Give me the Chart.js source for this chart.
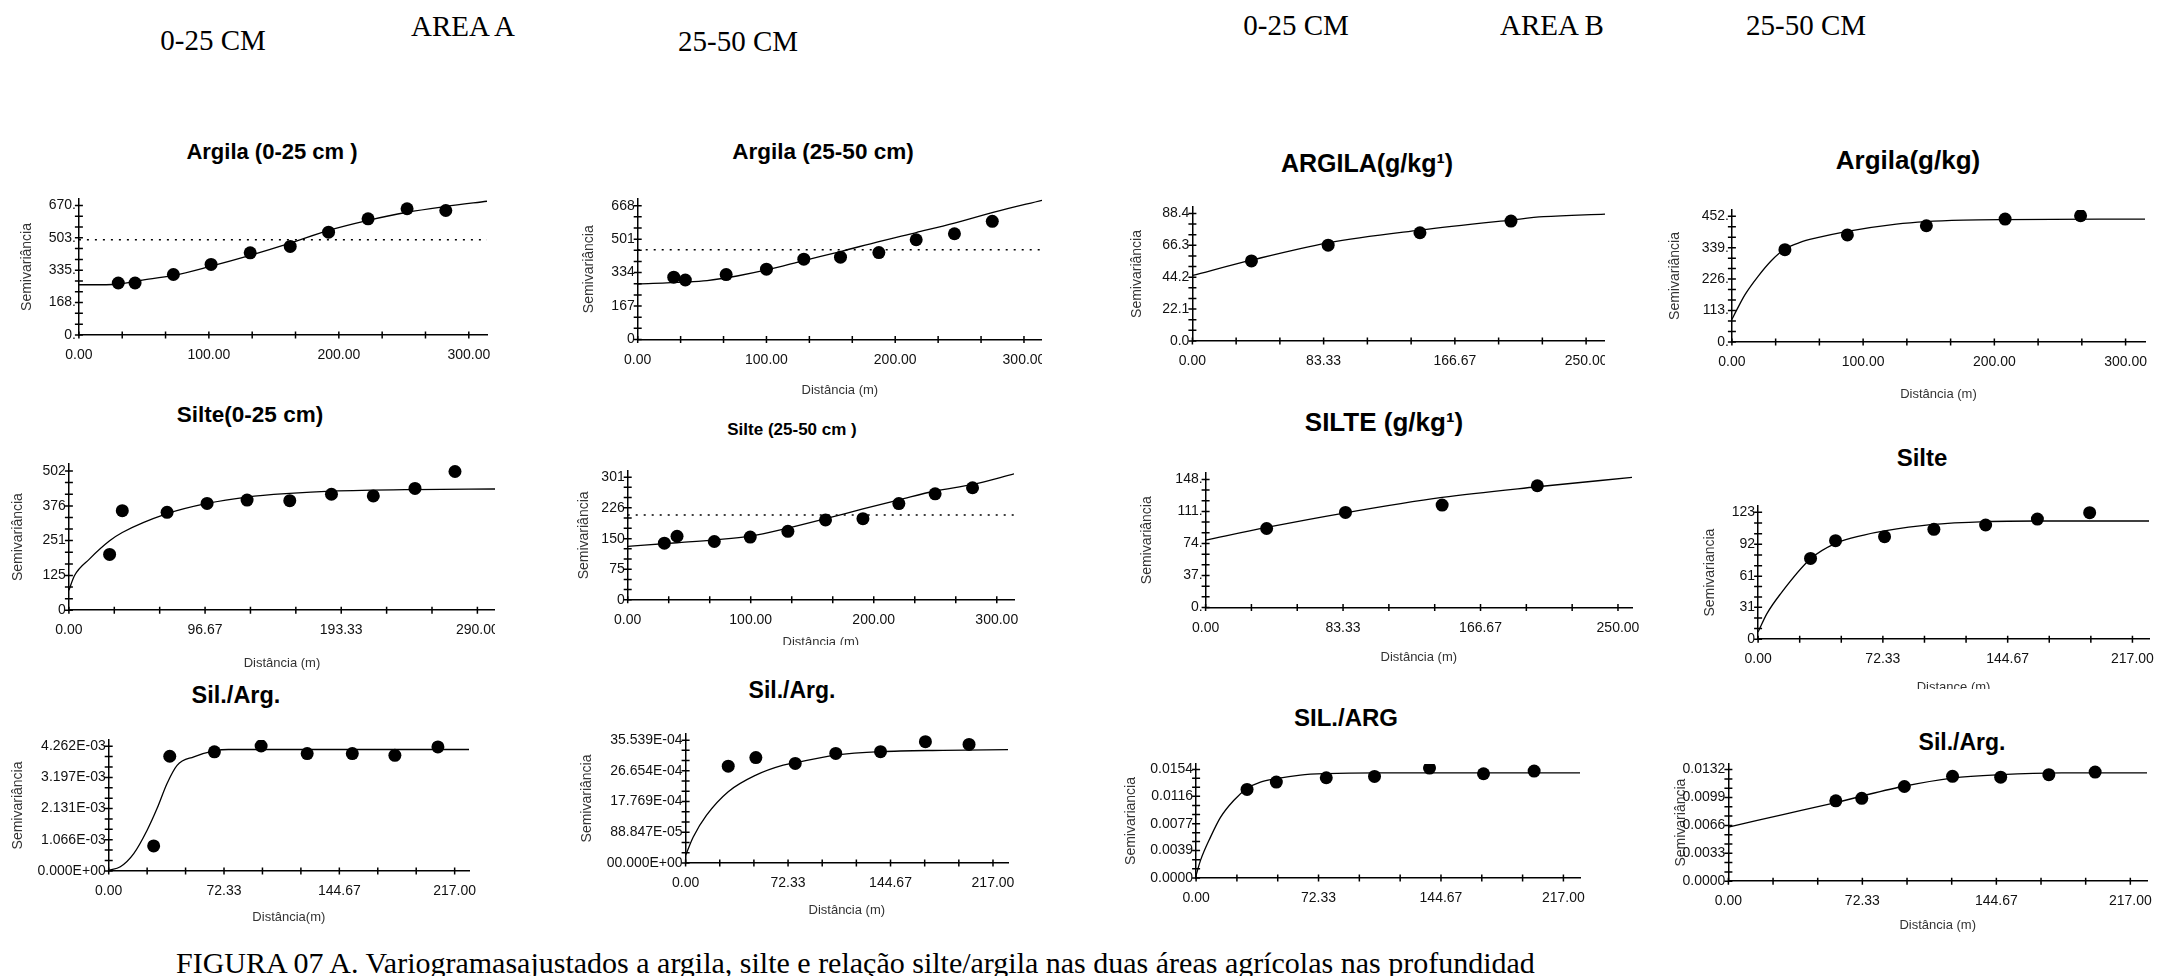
<!DOCTYPE html>
<html>
<head>
<meta charset="utf-8">
<script src="https://cdn.jsdelivr.net/npm/chart.js@4.4.0/dist/chart.umd.min.js"></script>
<style>
body { margin:0; background:#fff; }
#page { position:relative; width:2159px; height:976px; overflow:hidden; background:#fff; font-family:"Liberation Sans", Arial, sans-serif; }
.lbl { position:absolute; transform:translate(-50%,-50%); white-space:nowrap; }
.head { font-family:"Liberation Serif","Times New Roman",serif; font-size:29px; color:#000; }
.ttl { font-weight:bold; color:#000; }
.box { position:absolute; overflow:hidden; }
.box canvas { position:absolute; left:0; top:0; }
#caption { position:absolute; left:176px; top:946px; font-family:"Liberation Serif","Times New Roman",serif; font-size:30px; white-space:nowrap; }
</style>
</head>
<body>
<div id="page">
     <div class="lbl head" style="left:213px;top:40px">0-25 CM</div>
     <div class="lbl head" style="left:463px;top:26px">AREA A</div>
     <div class="lbl head" style="left:738px;top:41px">25-50 CM</div>
     <div class="lbl head" style="left:1296px;top:25px">0-25 CM</div>
     <div class="lbl head" style="left:1552px;top:25px">AREA B</div>
     <div class="lbl head" style="left:1806px;top:25px">25-50 CM</div>
     <div id="caption">FIGURA 07 A. Variogramasajustados a argila, silte e relação silte/argila nas duas áreas agrícolas nas profundidad</div>
</div>
<script>
// ---- data (lag in m, semivariance) ----

// Area A, argila 0-25
var argA1Lag = [30.3, 43.2, 72.7, 101.7, 131.8, 162.6, 192.1, 222.5, 252.5, 282.3];
var argA1Semi = [269, 269, 313, 365, 425, 458, 532, 601, 653, 644];
var argA1FitLag = [0, 21, 31.6, 47, 72.7, 101, 131.8, 162.6, 192, 221.7, 252.5, 282.3, 314];
var argA1FitSemi = [260, 260, 265, 282, 308, 355, 412, 475, 541, 592, 635, 665, 692];
var argA1Sill = 493;
var argA1YLabels = ['0.', '168.', '335.', '503.', '670.'];
var argA1XLabels = ['0.00', '100.00', '200.00', '300.00'];

// Area A, argila 25-50
var argA2Lag = [28, 37, 68.7, 100, 129, 157.5, 187.3, 216.3, 246, 275.4];
var argA2Semi = [311, 297, 324, 351, 401, 411, 434, 498, 528, 590];
var argA2FitLag = [0, 35.8, 53.9, 77.2, 100, 129, 157.5, 187.3, 216.3, 246, 276.7, 314];
var argA2FitSemi = [277, 286, 294, 317, 347, 394, 439, 489, 534, 581, 636, 695];
var argA2Sill = 448;
var argA2YLabels = ['0', '167', '334', '501', '668'];
var argA2XLabels = ['0.00', '100.00', '200.00', '300.00'];

// Area B, argila 0-25
var argB1Lag = [37.5, 86.2, 144.5, 202.3];
var argB1Semi = [55.5, 66.4, 75.0, 83.1];
var argB1FitLag = [0, 37.5, 86.2, 144.5, 202.3, 223, 262];
var argB1FitSemi = [45.4, 56, 68, 76.8, 83.8, 86.1, 87.9];
var argB1YLabels = ['0.0', '22.1', '44.2', '66.3', '88.4'];
var argB1XLabels = ['0.00', '83.33', '166.67', '250.00'];

// Area B, argila 25-50
var argB2Lag = [40.4, 88, 148.2, 208.2, 265.7];
var argB2Semi = [332, 385, 418, 442, 454];
var argB2FitLag = [0, 4, 10, 19.8, 30, 40.4, 52, 64.3, 88, 125.3, 148.2, 176.2, 208.2, 314.8];
var argB2FitSemi = [81, 118, 170, 235, 292, 334, 358, 374, 398, 424, 433, 438, 440, 442];
var argB2YLabels = ['0.', '113.', '226.', '339.', '452.'];
var argB2XLabels = ['0.00', '100.00', '200.00', '300.00'];

// Area A, silte 0-25
var silA1Lag = [28.9, 37.9, 69.7, 98.1, 126.5, 156.8, 186.4, 216.1, 245.7, 274.1];
var silA1Semi = [201, 359, 353, 385, 397, 395, 418, 412, 439, 500];
var silA1FitLag = [0, 4, 14.7, 28.9, 37.9, 69.7, 98.1, 126.5, 156.8, 186.4, 245.7, 302.5];
var silA1FitSemi = [72, 125, 185, 250, 280, 348, 385, 408, 421, 429, 435, 437];
var silA1YLabels = ['0', '125', '251', '376', '502'];
var silA1XLabels = ['0.00', '96.67', '193.33', '290.00'];

// Area A, silte 25-50
var silA2Lag = [29.8, 40.1, 70.4, 99.6, 130.2, 160.8, 191.2, 220.4, 249.9, 280.3];
var silA2Semi = [139, 156, 143, 154, 168, 196, 199, 236, 260, 275];
var silA2FitLag = [0, 40.1, 70.4, 99.6, 130.2, 160.8, 191.2, 220.4, 249.9, 280.3, 314];
var silA2FitSemi = [131, 140, 147, 156, 176, 199, 223, 245, 267, 283, 309];
var silA2Sill = 208;
var silA2YLabels = ['0', '75', '150', '226', '301'];
var silA2XLabels = ['0.00', '100.00', '200.00', '300.00'];

// Area B, silte 0-25
var silB1Lag = [37, 84.8, 143.4, 201.1];
var silB1Semi = [91.3, 109.8, 118.3, 140.7];
var silB1FitLag = [0, 37, 84.8, 143.4, 201.1, 258.5];
var silB1FitSemi = [77.8, 92.5, 109.4, 127.2, 139.5, 150.3];
var silB1YLabels = ['0.', '37.', '74.', '111.', '148.'];
var silB1XLabels = ['0.00', '83.33', '166.67', '250.00'];

// Area B, silte 25-50
var silB2Lag = [30.4, 44.9, 73.3, 101.9, 131.9, 161.9, 192.2];
var silB2Semi = [78.3, 95.5, 99.4, 106.5, 110.7, 116.5, 122.7];
var silB2FitLag = [0, 5.2, 13, 30.4, 44.9, 61.3, 73.3, 100, 131.9, 161.9, 226.6];
var silB2FitSemi = [7, 25, 44, 78, 93, 101, 105, 111, 114, 114.6, 114.6];
var silB2YLabels = ['0', '31', '61', '92', '123'];
var silB2XLabels = ['0.00', '72.33', '144.67', '217.00'];

// Area A, silte/argila 0-25
var relA1Lag = [28.2, 38.3, 66.3, 95.6, 124.5, 152.8, 179.5, 206.5];
var relA1Semi = [0.000855, 0.00392, 0.00407, 0.00427, 0.00401, 0.00401, 0.00395, 0.00424];
var relA1FitLag = [0, 7.3, 15.7, 24.1, 30.3, 36.6, 42.9, 53.4, 66.3, 75, 226];
var relA1FitSemi = [0.00002, 0.00014, 0.00059, 0.00139, 0.00213, 0.00299, 0.00361, 0.00390, 0.00410, 0.00415, 0.00415];
var relA1YLabels = ['0.000E+00', '1.066E-03', '2.131E-03', '3.197E-03', '4.262E-03'];
var relA1XLabels = ['0.00', '72.33', '144.67', '217.00'];

// Area A, silte/argila 25-50
var relA2Lag = [30.1, 49.6, 77.4, 106, 137.6, 169.3, 200.1];
var relA2Semi = [0.00280, 0.00305, 0.00288, 0.00317, 0.00322, 0.00351, 0.00343];
var relA2FitLag = [0, 5.4, 14.8, 30.1, 49.6, 68.9, 77.4, 106, 137.6, 181.8, 227.6];
var relA2FitSemi = [0.00022, 0.00075, 0.00138, 0.00206, 0.00254, 0.00283, 0.00290, 0.00312, 0.00322, 0.00326, 0.00328];
var relA2YLabels = ['00.000E+00', '88.847E-05', '17.769E-04', '26.654E-04', '35.539E-04'];
var relA2XLabels = ['0.00', '72.33', '144.67', '217.00'];

// Area B, silte/argila 0-25
var relB1Lag = [30.1, 47.4, 76.9, 105.4, 137.9, 169.8, 199.7];
var relB1Semi = [0.01257, 0.01360, 0.01422, 0.01441, 0.01559, 0.01479, 0.01516];
var relB1FitLag = [0, 2.6, 8.5, 14.4, 22.2, 30.1, 38, 47.4, 61.6, 76.9, 106.8, 226.8];
var relB1FitSemi = [0.0004, 0.0025, 0.0058, 0.0086, 0.0110, 0.0127, 0.0136, 0.0141, 0.0146, 0.0148, 0.0149, 0.0149];
var relB1YLabels = ['0.0000', '0.0039', '0.0077', '0.0116', '0.0154'];
var relB1XLabels = ['0.00', '72.33', '144.67', '217.00'];

// Area B, silte/argila 25-50
var relB2Lag = [58, 72, 95, 121, 147, 173, 198];
var relB2Semi = [0.0095, 0.0098, 0.0112, 0.0124, 0.0123, 0.0126, 0.0129];
var relB2FitLag = [0, 30, 58, 94, 121, 147, 180, 226];
var relB2FitSemi = [0.0064, 0.0079, 0.0093, 0.0112, 0.0122, 0.0126, 0.0128, 0.0128];
var relB2YLabels = ['0.0000', '0.0033', '0.0066', '0.0099', '0.0132'];
var relB2XLabels = ['0.00', '72.33', '144.67', '217.00'];

// ---- where each small chart sits on the page ----
var panels = [
     { lag: argA1Lag, semi: argA1Semi, fitLag: argA1FitLag, fitSemi: argA1FitSemi, sill: argA1Sill, yl: argA1YLabels, xl: argA1XLabels,
       title: 'Argila (0-25 cm )', tx: 272, ty: 152, ts: 22, left: 79, right: 486.6, top: 198.5, bottom: 334.7, xMax: 314, yTitleX: 27.5 },
     { lag: argA2Lag, semi: argA2Semi, fitLag: argA2FitLag, fitSemi: argA2FitSemi, sill: argA2Sill, yl: argA2YLabels, xl: argA2XLabels,
       title: 'Argila (25-50 cm)', tx: 823, ty: 152, ts: 22.5, left: 637.3, right: 1041.3, top: 199.3, bottom: 339.3, xMax: 314, yTitleX: 589,
       xTitle: 'Distância (m)', xTitleY: 390, clipR: 1042.5 },
     { lag: argB1Lag, semi: argB1Semi, fitLag: argB1FitLag, fitSemi: argB1FitSemi, yl: argB1YLabels, xl: argB1XLabels,
       title: 'ARGILA(g/kg¹)', tx: 1367, ty: 163, ts: 25, left: 1192.7, right: 1604.9, top: 207, bottom: 340.7, xMax: 262, yTitleX: 1137.7,
       clipR: 1605.5 },
     { lag: argB2Lag, semi: argB2Semi, fitLag: argB2FitLag, fitSemi: argB2FitSemi, yl: argB2YLabels, xl: argB2XLabels,
       title: 'Argila(g/kg)', tx: 1908, ty: 160, ts: 26, left: 1732.3, right: 2145, top: 210.4, bottom: 342.7, xMax: 314.8, yTitleX: 1675.8,
       xTitle: 'Distância (m)', xTitleY: 395 },
     { lag: silA1Lag, semi: silA1Semi, fitLag: silA1FitLag, fitSemi: silA1FitSemi, yl: silA1YLabels, xl: silA1XLabels,
       title: 'Silte(0-25 cm)', tx: 250, ty: 415, ts: 22.5, left: 69.3, right: 494.9, top: 464, bottom: 610, xMax: 302.5, yTitleX: 18.8,
       xTitle: 'Distância (m)', xTitleY: 663, clipR: 495.5 },
     { lag: silA2Lag, semi: silA2Semi, fitLag: silA2FitLag, fitSemi: silA2FitSemi, sill: silA2Sill, yl: silA2YLabels, xl: silA2XLabels,
       title: 'Silte (25-50 cm )', tx: 792, ty: 430, ts: 17, left: 627.3, right: 1013.8, top: 470.5, bottom: 599.3, xMax: 314, yTitleX: 584,
       xTitle: 'Distância (m)', xTitleY: 641.7, clipB: 645 },
     { lag: silB1Lag, semi: silB1Semi, fitLag: silB1FitLag, fitSemi: silB1FitSemi, yl: silB1YLabels, xl: silB1XLabels,
       title: 'SILTE (g/kg¹)', tx: 1384, ty: 422, ts: 26, left: 1205.7, right: 1632.4, top: 472.9, bottom: 607.3, xMax: 258.5, yTitleX: 1147.5,
       xTitle: 'Distância (m)', xTitleY: 657 },
     { lag: silB2Lag, semi: silB2Semi, fitLag: silB2FitLag, fitSemi: silB2FitSemi, yl: silB2YLabels, xl: silB2XLabels,
       title: 'Silte', tx: 1922, ty: 458, ts: 24, left: 1757.7, right: 2148.3, top: 506, bottom: 639, xMax: 226.6, yTitleX: 1710,
       yTitle: 'Semivariancia', xTitle: 'Distance (m)', xTitleY: 687, clipB: 689 },
     { lag: relA1Lag, semi: relA1Semi, fitLag: relA1FitLag, fitSemi: relA1FitSemi, yl: relA1YLabels, xl: relA1XLabels,
       title: 'Sil./Arg.', tx: 236, ty: 695, ts: 23.5, left: 108.3, right: 468.3, top: 739.8, bottom: 870.7, xMax: 226, yTitleX: 18,
       xTitle: 'Distância(m)', xTitleY: 917 },
     { lag: relA2Lag, semi: relA2Semi, fitLag: relA2FitLag, fitSemi: relA2FitSemi, yl: relA2YLabels, xl: relA2XLabels,
       title: 'Sil./Arg.', tx: 792, ty: 690, ts: 23, left: 685.7, right: 1008.4, top: 733.9, bottom: 862.7, xMax: 227.6, yTitleX: 587.5,
       xTitle: 'Distância (m)', xTitleY: 910 },
     { lag: relB1Lag, semi: relB1Semi, fitLag: relB1FitLag, fitSemi: relB1FitSemi, yl: relB1YLabels, xl: relB1XLabels,
       title: 'SIL./ARG', tx: 1346, ty: 718, ts: 24, left: 1195.7, right: 1580, top: 763.6, bottom: 877.7, xMax: 226.8, yTitleX: 1131,
       yTitle: 'Semivariancia' },
     { lag: relB2Lag, semi: relB2Semi, fitLag: relB2FitLag, fitSemi: relB2FitSemi, yl: relB2YLabels, xl: relB2XLabels,
       title: 'Sil./Arg.', tx: 1962, ty: 742, ts: 23, left: 1728, right: 2146.7, top: 764.4, bottom: 882, xMax: 226, yTitleX: 1681,
       xTitle: 'Distância (m)', xTitleY: 926 }
];

Chart.defaults.font.family = '"Liberation Sans", Arial, sans-serif';
Chart.defaults.font.size = 14;
Chart.defaults.color = '#111';

// ticks that cross the axis lines, like the GS+ plots
var crossTicks = {
     id: 'crossTicks',
     afterDraw: function (chart) {
          var ctx = chart.ctx, a = chart.chartArea, sx = chart.scales.x, sy = chart.scales.y;
          ctx.save();
          ctx.strokeStyle = '#000';
          ctx.lineWidth = 1.5;
          ctx.beginPath();
          sx.ticks.forEach(function (t) {
               var px = sx.getPixelForValue(t.value);
               ctx.moveTo(px, a.bottom - 3.5);
               ctx.lineTo(px, a.bottom + 3.5);
          });
          sy.ticks.forEach(function (t) {
               var py = sy.getPixelForValue(t.value);
               ctx.moveTo(a.left - 4, py);
               ctx.lineTo(a.left + 4, py);
          });
          ctx.stroke();
          ctx.restore();
     }
};

var toPoints = function (xs, ys) {
     return xs.map(function (x, i) { return { x: x, y: ys[i] }; });
};

// labelled ticks plus two minor ticks between each pair
var tickValues = function (labels) {
     var vals = labels.map(parseFloat);
     var out = [];
     for (var i = 0; i < vals.length - 1; i++) {
          var step = (vals[i + 1] - vals[i]) / 3;
          out.push(vals[i], vals[i] + step, vals[i] + 2 * step);
     }
     out.push(vals[vals.length - 1]);
     return out;
};

var page = document.getElementById('page');

panels.forEach(function (p) {
     var canvasLeft = p.yTitleX - 12.4;
     var yw = p.left - canvasLeft;
     var canvasTop = p.top - 12;
     var xh = p.xTitle ? (p.xTitleY + 11.8 - p.bottom) : 34;
     var cw = Math.round(yw + (p.right - p.left) + 30);
     var ch = Math.round(12 + (p.bottom - p.top) + xh);
     var yTop = parseFloat(p.yl[p.yl.length - 1]) * 1.05;

     var t = document.createElement('div');
     t.className = 'lbl ttl';
     t.style.left = p.tx + 'px';
     t.style.top = p.ty + 'px';
     t.style.fontSize = p.ts + 'px';
     t.textContent = p.title;
     page.appendChild(t);

     var box = document.createElement('div');
     box.className = 'box';
     box.style.left = canvasLeft + 'px';
     box.style.top = canvasTop + 'px';
     box.style.width = (p.clipR ? p.clipR - canvasLeft : cw) + 'px';
     box.style.height = (p.clipB ? p.clipB - canvasTop : ch) + 'px';
     var cv = document.createElement('canvas');
     cv.width = cw;
     cv.height = ch;
     cv.style.width = cw + 'px';
     cv.style.height = ch + 'px';
     box.appendChild(cv);
     page.appendChild(box);

     var datasets = [];
     if (p.sill !== undefined) {
          datasets.push({
               data: toPoints([0, p.xMax], [p.sill, p.sill]),
               showLine: true, borderColor: '#000', borderWidth: 1.6, borderDash: [2, 6], pointRadius: 0
          });
     }
     datasets.push({
          data: toPoints(p.fitLag, p.fitSemi),
          showLine: true, borderColor: '#000', borderWidth: 1.3, pointRadius: 0, cubicInterpolationMode: 'monotone'
     });
     datasets.push({
          data: toPoints(p.lag, p.semi),
          pointRadius: 6.5, backgroundColor: '#000', borderWidth: 0
     });

     new Chart(cv, {
          type: 'scatter',
          data: { datasets: datasets },
          options: {
               responsive: false,
               animation: false,
               layout: { padding: { top: 12, right: 30, left: 0, bottom: 0 } },
               plugins: { legend: { display: false }, tooltip: { enabled: false } },
               scales: {
                    x: {
                         type: 'linear', min: 0, max: p.xMax,
                         grid: { display: false, drawTicks: false },
                         border: { display: true, color: '#000', width: 1.5 },
                         afterBuildTicks: function (s) { s.ticks = tickValues(p.xl).map(function (v) { return { value: v }; }); },
                         afterFit: function (s) { s.height = xh; },
                         ticks: {
                              autoSkip: false, maxRotation: 0, padding: 12,
                              callback: function (v, i) { return i % 3 === 0 ? p.xl[i / 3] : ''; }
                         },
                         title: { display: !!p.xTitle, text: p.xTitle || '', font: { size: 13 }, color: '#333', padding: { top: 4, bottom: 4 } }
                    },
                    y: {
                         type: 'linear', min: 0, max: yTop,
                         grid: { display: false, drawTicks: false },
                         border: { display: true, color: '#000', width: 1.5 },
                         afterBuildTicks: function (s) { s.ticks = tickValues(p.yl).map(function (v) { return { value: v }; }); },
                         afterFit: function (s) { s.width = yw; },
                         ticks: {
                              autoSkip: false, padding: 3,
                              callback: function (v, i) { return i % 3 === 0 ? p.yl[i / 3] : ''; }
                         },
                         title: { display: true, text: p.yTitle || 'Semivariância', font: { size: 14 }, color: '#333', padding: { top: 4, bottom: 4 } }
                    }
               }
          },
          plugins: [crossTicks]
     });
});
</script>
</body>
</html>
